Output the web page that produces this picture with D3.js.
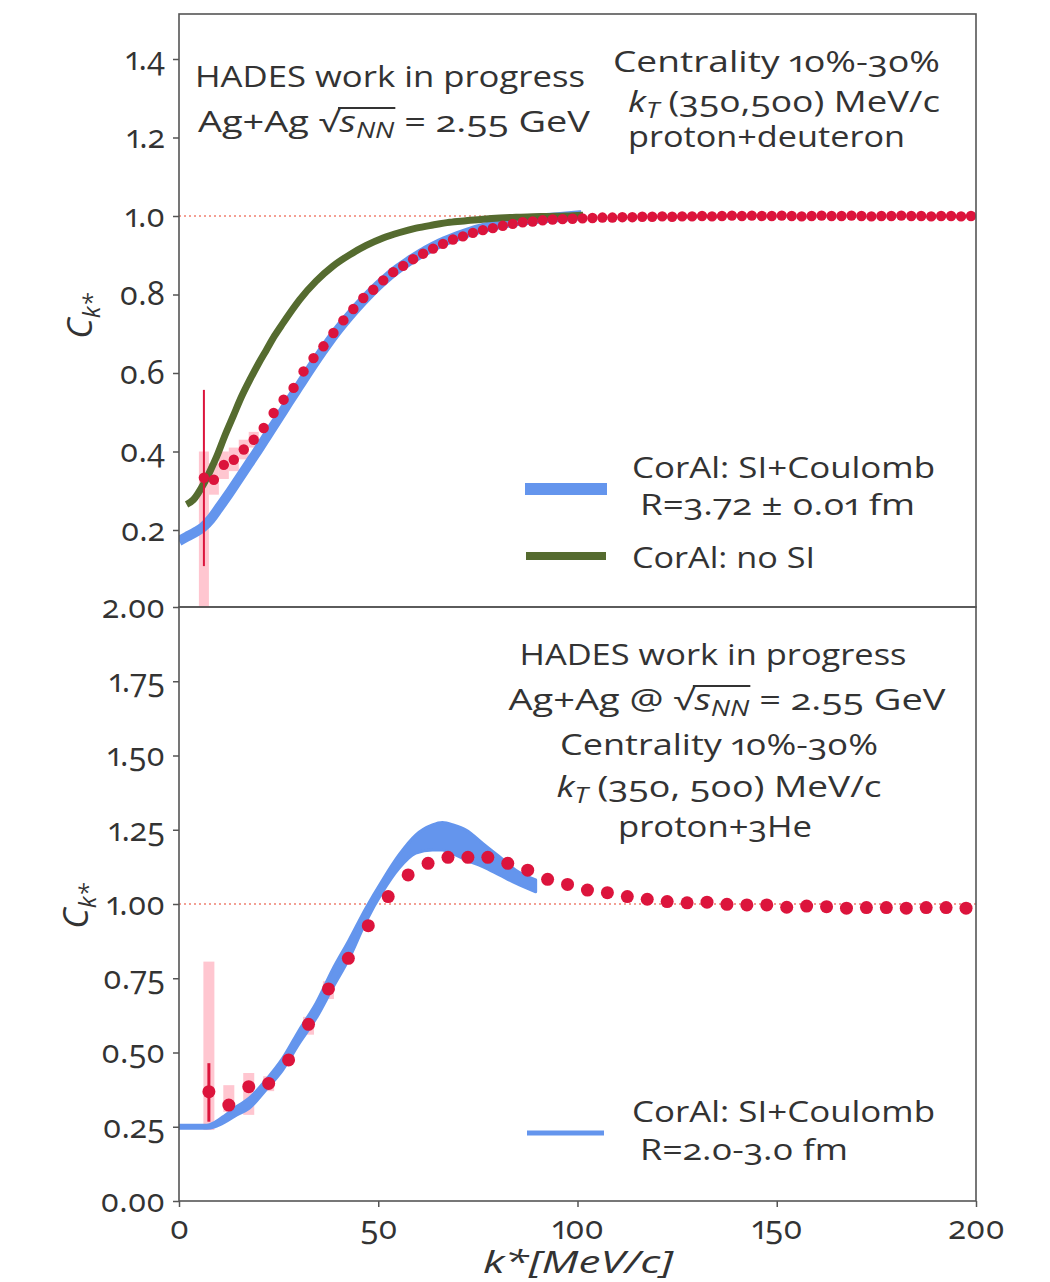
<!DOCTYPE html>
<html>
<head>
<meta charset="utf-8">
<script src="https://cdn.jsdelivr.net/npm/d3@7"></script>
<style>
  html, body { margin: 0; padding: 0; background: #fff; }
  svg { display: block; }
  text, tspan { font-family: "Open Sans", Lato, sans-serif; fill: #333;
    font-variant-numeric: oldstyle-nums; font-feature-settings: "onum" 1, "pnum" 1; }
</style>
</head>
<body>
<svg id="chart" width="1050" height="1282"></svg>
<script>
// ---------- proton+deuteron (upper panel) ----------
const kPD = [6.25, 8.75, 11.25, 13.75, 16.25, 18.75, 21.25, 23.75, 26.25, 28.75,
  31.25, 33.75, 36.25, 38.75, 41.25, 43.75, 46.25, 48.75, 51.25, 53.75,
  56.25, 58.75, 61.25, 63.75, 66.25, 68.75, 71.25, 73.75, 76.25, 78.75,
  81.25, 83.75, 86.25, 88.75, 91.25, 93.75, 96.25, 98.75, 101.25, 103.75,
  106.25, 108.75, 111.25, 113.75, 116.25, 118.75, 121.25, 123.75, 126.25, 128.75,
  131.25, 133.75, 136.25, 138.75, 141.25, 143.75, 146.25, 148.75, 151.25, 153.75,
  156.25, 158.75, 161.25, 163.75, 166.25, 168.75, 171.25, 173.75, 176.25, 178.75,
  181.25, 183.75, 186.25, 188.75, 191.25, 193.75, 196.25, 198.75];
const cPD = [0.333, 0.328, 0.366, 0.379, 0.405, 0.430, 0.460, 0.498, 0.532, 0.562,
  0.604, 0.638, 0.668, 0.702, 0.734, 0.763, 0.791, 0.812, 0.836, 0.857,
  0.873, 0.890, 0.904, 0.917, 0.929, 0.940, 0.948, 0.957, 0.964, 0.969,
  0.975, 0.980, 0.984, 0.986, 0.989, 0.991, 0.992, 0.993, 0.994, 0.995,
  0.996, 0.996, 0.997, 0.997, 0.998, 0.998, 0.999, 0.998, 0.999, 0.999,
  1.000, 0.999, 1.000, 1.001, 1.000, 1.001, 1.000, 1.000, 1.001, 1.000,
  0.999, 1.000, 1.001, 1.000, 1.000, 1.001, 1.000, 0.999, 1.000, 1.000,
  1.001, 1.000, 1.000, 0.999, 1.000, 1.000, 0.999, 1.000];
const statPDk = [6.25];
const statPDlo = [0.108];
const statPDhi = [0.557];
const sysPDk = [6.25, 8.75, 11.25, 13.75, 16.25, 18.75];
const sysPDlo = [-0.05, 0.29, 0.33, 0.35, 0.38, 0.41];
const sysPDhi = [0.40, 0.37, 0.40, 0.41, 0.43, 0.45];

// CorAl: SI+Coulomb, R = 3.72 fm
const kFitPD = [0, 2, 4, 6, 8, 10, 12.5, 15, 17.5, 20, 22.5, 25, 27.5, 30, 32.5, 35,
  37.5, 40, 42.5, 45, 47.5, 50, 52.5, 55, 57.5, 60, 62.5, 65, 67.5, 70, 72.5, 75,
  77.5, 80, 85, 90, 95, 101];
const cFitPD = [0.172, 0.183, 0.194, 0.207, 0.228, 0.256, 0.292, 0.330, 0.368, 0.406,
  0.446, 0.485, 0.525, 0.564, 0.603, 0.641, 0.677, 0.711, 0.742, 0.771, 0.798,
  0.823, 0.846, 0.866, 0.884, 0.900, 0.915, 0.928, 0.939, 0.949, 0.958, 0.966,
  0.972, 0.978, 0.987, 0.993, 0.997, 1.002];
// CorAl: Coulomb only (no strong interaction)
const kNoSI = [1.9, 3.6, 6.1, 7.8, 9.5, 11.5, 13.6, 15.7, 17.8, 20, 22, 24, 26.1, 28.2,
  30.3, 34.4, 38.6, 42.8, 47, 51.2, 55.4, 59.5, 63.7, 67.9, 72, 76.3, 80.5, 84.6,
  88.8, 93, 97, 101.4];
const cNoSI = [0.265, 0.277, 0.316, 0.350, 0.388, 0.440, 0.490, 0.540, 0.583, 0.625,
  0.660, 0.695, 0.727, 0.758, 0.787, 0.834, 0.872, 0.901, 0.925, 0.944, 0.958,
  0.969, 0.977, 0.984, 0.988, 0.992, 0.995, 0.997, 0.998, 0.999, 1.000, 1.002];

// ---------- proton+3He (lower panel) ----------
const kPHe = [7.5, 12.5, 17.5, 22.5, 27.5, 32.5, 37.5, 42.5, 47.5, 52.5,
  57.5, 62.5, 67.5, 72.5, 77.5, 82.5, 87.5, 92.5, 97.5, 102.5,
  107.5, 112.5, 117.5, 122.5, 127.5, 132.5, 137.5, 142.5, 147.5, 152.5,
  157.5, 162.5, 167.5, 172.5, 177.5, 182.5, 187.5, 192.5, 197.5];
const cPHe = [0.368, 0.323, 0.385, 0.396, 0.475, 0.595, 0.714, 0.817, 0.927, 1.025,
  1.098, 1.137, 1.157, 1.157, 1.157, 1.137, 1.114, 1.083, 1.066, 1.047,
  1.038, 1.025, 1.016, 1.008, 1.004, 1.006, 0.999, 0.997, 0.997, 0.989,
  0.993, 0.991, 0.986, 0.988, 0.988, 0.986, 0.988, 0.988, 0.986];
const statPHek = [7.5];
const statPHelo = [0.267];
const statPHehi = [0.464];
const sysPHek = [7.5, 12.5, 17.5, 22.5, 32.5, 37.5];
const sysPHelo = [0.239, 0.30, 0.29, 0.37, 0.56, 0.68];
const sysPHehi = [0.806, 0.39, 0.431, 0.42, 0.62, 0.74];

// CorAl band, R = 2.0-3.0 fm
const kBand = [0, 4, 7, 9, 11.7, 14.5, 17.6, 21.8, 26, 30.2, 34.4, 38.5, 42.7, 46.9,
  51.1, 55.2, 59.4, 63.6, 66.1, 69, 72, 76.2, 80.4, 84.5, 89.5];
const bandLo = [0.245, 0.245, 0.245, 0.250, 0.267, 0.290, 0.312, 0.374, 0.441, 0.531,
  0.615, 0.716, 0.817, 0.940, 1.041, 1.120, 1.171, 1.182, 1.182, 1.168, 1.148,
  1.126, 1.098, 1.070, 1.041];
const bandHi = [0.255, 0.255, 0.255, 0.265, 0.290, 0.318, 0.346, 0.407, 0.480, 0.576,
  0.666, 0.778, 0.879, 0.986, 1.081, 1.165, 1.232, 1.266, 1.274, 1.265, 1.249,
  1.204, 1.159, 1.114, 1.081];

// ---------- axis ticks ----------
const ticksPD = [0.2, 0.4, 0.6, 0.8, 1.0, 1.2, 1.4];
const ticksPHe = [0, 0.25, 0.5, 0.75, 1.0, 1.25, 1.5, 1.75, 2.0];
const ticksK = [0, 50, 100, 150, 200];

// ---------- styling ----------
const RED = "#dc143c", BLUE = "#6495ed", GREEN = "#556b2f", PINK = "#ffc0cb";
const FRAME = "#555";

const svg = d3.select("#chart");
const L = 179, R = 976;
const topY0 = 14, split = 607, botY1 = 1201;

const x = d3.scaleLinear().domain([0, 200]).range([L, R]);
const yPD = d3.scaleLinear().domain([0.2, 1.4]).range([530, 59]);
const yPHe = d3.scaleLinear().domain([0, 2]).range([botY1, split]);

const defs = svg.append("defs");
defs.append("clipPath").attr("id", "clipTop")
  .append("rect").attr("x", L).attr("y", topY0).attr("width", R - L).attr("height", split - topY0);
defs.append("clipPath").attr("id", "clipBot")
  .append("rect").attr("x", L).attr("y", split).attr("width", R - L).attr("height", botY1 - split);

function sysBoxes(g, y, ks, lo, hi, w) {
  g.selectAll(null).data(ks).join("rect")
    .attr("x", d => x(d) - w / 2)
    .attr("width", w)
    .attr("y", (d, i) => y(hi[i]))
    .attr("height", (d, i) => y(lo[i]) - y(hi[i]))
    .attr("fill", PINK).attr("opacity", 0.9);
}
function statBars(g, y, ks, lo, hi, w) {
  g.selectAll(null).data(ks).join("line")
    .attr("x1", d => x(d)).attr("x2", d => x(d))
    .attr("y1", (d, i) => y(lo[i])).attr("y2", (d, i) => y(hi[i]))
    .attr("stroke", RED).attr("stroke-width", w);
}
function refLine(g, y) {
  g.append("line").attr("x1", L).attr("x2", R).attr("y1", y(1)).attr("y2", y(1))
    .attr("stroke", "#f08070").attr("stroke-width", 1.5).attr("stroke-dasharray", "2,3");
}
function dots(g, y, ks, cs, r) {
  g.selectAll(null).data(ks).join("circle")
    .attr("cx", d => x(d)).attr("cy", (d, i) => y(cs[i])).attr("r", r).attr("fill", RED);
}

// ===== upper panel =====
const gTop = svg.append("g").attr("clip-path", "url(#clipTop)");
sysBoxes(gTop, yPD, sysPDk, sysPDlo, sysPDhi, 10);
refLine(gTop, yPD);
gTop.append("path")
  .attr("d", d3.line().x(d => x(d[0])).y(d => yPD(d[1])).curve(d3.curveMonotoneX)(kFitPD.map((k, i) => [k, cFitPD[i]])))
  .attr("fill", "none").attr("stroke", BLUE).attr("stroke-width", 10);
gTop.append("path")
  .attr("d", d3.line().x(d => x(d[0])).y(d => yPD(d[1])).curve(d3.curveMonotoneX)(kNoSI.map((k, i) => [k, cNoSI[i]])))
  .attr("fill", "none").attr("stroke", GREEN).attr("stroke-width", 7);
statBars(gTop, yPD, statPDk, statPDlo, statPDhi, 2);
dots(gTop, yPD, kPD, cPD, 5.2);

// ===== lower panel =====
const gBot = svg.append("g").attr("clip-path", "url(#clipBot)");
sysBoxes(gBot, yPHe, sysPHek, sysPHelo, sysPHehi, 11);
refLine(gBot, yPHe);
const bandPts = kBand.map((k, i) => [k, bandLo[i], bandHi[i]]);
gBot.append("path")
  .attr("d", d3.area().x(d => x(d[0])).y0(d => yPHe(d[1])).y1(d => yPHe(d[2])).curve(d3.curveMonotoneX)(bandPts))
  .attr("fill", BLUE).attr("stroke", BLUE).attr("stroke-width", 3).attr("stroke-linejoin", "round");
statBars(gBot, yPHe, statPHek, statPHelo, statPHehi, 3);
dots(gBot, yPHe, kPHe, cPHe, 6.5);

// ===== frames and axes =====
function frame(y0, y1) {
  svg.append("rect").attr("x", L).attr("y", y0).attr("width", R - L).attr("height", y1 - y0)
    .attr("fill", "none").attr("stroke", FRAME).attr("stroke-width", 1.6);
}
frame(topY0, split);
frame(split, botY1);

function styleTicks(g, size) {
  g.attr("font-family", null).attr("font-size", null);
  g.select(".domain").remove();
  g.selectAll(".tick line").attr("stroke", FRAME).attr("stroke-width", 1.5);
  g.selectAll(".tick text").attr("font-size", size).attr("fill", "#333");
}
function yAxis(scale, ticks, fmt) {
  const g = svg.append("g").attr("transform", `translate(${L},0)`)
    .call(d3.axisLeft(scale).tickValues(ticks).tickSize(6).tickPadding(8).tickFormat(fmt));
  styleTicks(g, 32);
}
yAxis(yPD, ticksPD, d3.format(".1f"));
yAxis(yPHe, ticksPHe, d3.format(".2f"));

const gx = svg.append("g").attr("transform", `translate(0,${botY1})`)
  .call(d3.axisBottom(x).tickValues(ticksK).tickSize(6).tickPadding(9).tickFormat(d3.format("d")));
styleTicks(gx, 33);

// axis titles
function yTitle(cx, cy) {
  const t = svg.append("text").attr("transform", `translate(${cx},${cy}) rotate(-90)`)
    .attr("text-anchor", "middle").attr("font-size", 35);
  t.append("tspan").attr("font-style", "italic").text("C");
  t.append("tspan").attr("font-style", "italic").attr("font-size", 24).attr("dy", 8).text("k*");
}
yTitle(92, 316);
yTitle(88, 906);

svg.append("text").attr("x", 578).attr("y", 1273).attr("text-anchor", "middle")
  .attr("font-size", 31).attr("font-style", "italic")
  .attr("textLength", 190).attr("lengthAdjust", "spacingAndGlyphs").text("k*[MeV/c]");

// ===== annotations =====
function label(xp, yp, anchor, size, width) {
  const t = svg.append("text").attr("x", xp).attr("y", yp).attr("text-anchor", anchor).attr("font-size", size);
  if (width) t.attr("textLength", width).attr("lengthAdjust", "spacingAndGlyphs");
  return t;
}
// radical with a bar over s_NN
function sqrtS(t, before, after, size) {
  t.append("tspan").text(before + "\u221A");
  t.append("tspan").attr("font-style", "italic").text("s");
  t.append("tspan").attr("font-style", "italic").attr("font-size", "0.72em").attr("dy", 6).text("NN");
  t.append("tspan").attr("dy", -6).text(after);
  const node = t.node();
  const i0 = (before + "\u221A").length - 1;
  const a = node.getExtentOfChar(i0), b = node.getExtentOfChar(i0 + 3);
  const base = +t.attr("y");
  svg.append("line")
    .attr("x1", a.x + a.width - 1.5).attr("x2", b.x + b.width + 1)
    .attr("y1", base - size * 0.8).attr("y2", base - size * 0.8)
    .attr("stroke", "#333").attr("stroke-width", 1.8);
}
function kT(t, rest) {
  t.append("tspan").attr("font-style", "italic").text("k");
  t.append("tspan").attr("font-style", "italic").attr("font-size", "0.72em").attr("dy", 6).text("T");
  t.append("tspan").attr("dy", -6).text(" " + rest);
}

const FS = 30;
label(195, 87, "start", FS, 390).text("HADES work in progress");
sqrtS(label(198, 132, "start", FS, 392), "Ag+Ag ", " =  2.55 GeV", FS);
label(613, 72, "start", FS, 327).text("Centrality 10%-30%");
kT(label(628, 112, "start", FS, 312), "(350,500) MeV/c");
label(628, 147, "start", FS, 277).text("proton+deuteron");

label(713, 665, "middle", FS, 387).text("HADES work in progress");
sqrtS(label(727, 710, "middle", FS, 437), "Ag+Ag @ ", " =  2.55 GeV", FS);
label(719, 755, "middle", FS, 318).text("Centrality 10%-30%");
kT(label(719, 797, "middle", FS, 325), "(350, 500) MeV/c");
label(715, 837, "middle", FS, 194).text("proton+3He");

// ===== legends =====
svg.append("line").attr("x1", 525).attr("x2", 607).attr("y1", 489).attr("y2", 489)
  .attr("stroke", BLUE).attr("stroke-width", 12);
label(632, 478, "start", FS, 303).text("CorAl: SI+Coulomb");
label(640, 515, "start", FS, 275).text("R=3.72 \u00B1 0.01 fm");
svg.append("line").attr("x1", 526).attr("x2", 606).attr("y1", 556).attr("y2", 556)
  .attr("stroke", GREEN).attr("stroke-width", 8);
label(632, 568, "start", FS, 183).text("CorAl: no SI");

svg.append("line").attr("x1", 527).attr("x2", 604).attr("y1", 1133).attr("y2", 1133)
  .attr("stroke", BLUE).attr("stroke-width", 5);
label(632, 1122, "start", FS, 303).text("CorAl: SI+Coulomb");
label(640, 1160, "start", FS, 208).text("R=2.0-3.0 fm");
</script>
</body>
</html>
